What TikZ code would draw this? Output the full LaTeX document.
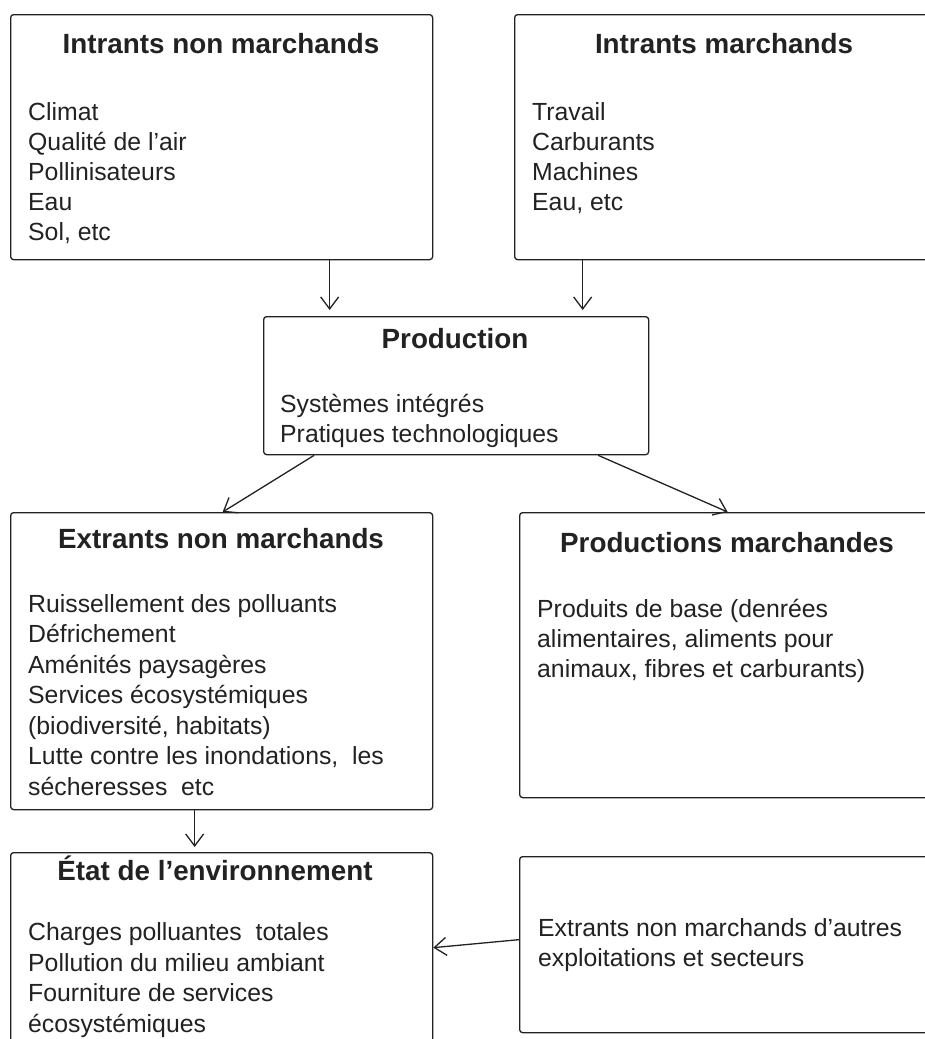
\documentclass[tikz,border=0pt]{standalone}
\usepackage{fontspec}
\setmainfont{Liberation Sans}
\usepackage{tikz}
\usetikzlibrary{arrows.meta}
\definecolor{ink}{HTML}{222222}

\begin{document}
\begin{tikzpicture}[x=1pt, y=-1pt, every node/.style={text=ink},
    box/.style={draw=ink, line width=1.3pt, rounded corners=3pt, anchor=north west, inner sep=0pt},
    head/.style={anchor=base, font=\fontsize{27.8}{32}\selectfont\bfseries},
    body/.style={anchor=base west, align=left, inner sep=0pt, font=\fontsize{24.8}{30}\selectfont},
    arr/.style={draw=ink, line width=1.3pt, -{Straight Barb[length=12pt, width=18pt, line width=1.3pt]}}]
    \useasboundingbox[fill=white] (0,0) rectangle (925,1039);
    \clip (0,0) rectangle (925,1039);

    % Intrants (body nodes sit on the baseline of their last line)
    \node[box, minimum width=422pt, minimum height=245pt] (inm) at (10,14) {};
    \node[head] (inmH) at (221,53) {Intrants non marchands};
    \node[body] (inmB) at (28,240) {Climat\\Qualité de l’air\\Pollinisateurs\\Eau\\Sol, etc};
    \node[box, minimum width=421pt, minimum height=245pt] (im) at (514,14) {};
    \node[head] (imH) at (724,53) {Intrants marchands};
    \node[body] (imB) at (532,210) {Travail\\Carburants\\Machines\\Eau, etc};

    % Production
    \node[box, minimum width=385pt, minimum height=138pt] (prod) at (263,316) {};
    \node[head] (prodH) at (455,348) {Production};
    \node[body] (prodB) at (280,442) {Systèmes intégrés\\Pratiques technologiques};

    % Extrants et productions
    \node[box, minimum width=422pt, minimum height=297pt] (enm) at (10,512) {};
    \node[head] (enmH) at (221,548) {Extrants non marchands};
    \node[body, font=\fontsize{24.8}{30.5}\selectfont] (enmB) at (28,795) {Ruissellement des polluants\\Défrichement\\Aménités paysagères\\Services écosystémiques\\(biodiversité, habitats)\\Lutte contre les inondations,\ \ les\\sécheresses\ \ etc};
    \node[box, minimum width=416pt, minimum height=285pt] (pm) at (519,512) {};
    \node[head] (pmH) at (727,552) {Productions marchandes};
    \node[body] (pmB) at (537,677) {Produits de base (denrées\\alimentaires, aliments pour\\animaux, fibres et carburants)};

    % Environnement
    \node[box, minimum width=422pt, minimum height=190pt] (etat) at (10,852) {};
    \node[head] (etatH) at (215,880) {État de l’environnement};
    \node[body, font=\fontsize{24.8}{30.5}\selectfont] (etatB) at (28,1032) {Charges polluantes\ \ totales\\Pollution du milieu ambiant\\Fourniture de services\\écosystémiques};
    \node[box, minimum width=416pt, minimum height=176pt] (autres) at (519,856) {};
    \node[body] (autresB) at (538,966) {Extrants non marchands d’autres\\exploitations et secteurs};

    % Fleches
    \draw[arr, shorten >=6pt] ([xshift=108pt]inm.south) -- ([xshift=108pt]inm.south |- prod.north);
    \draw[arr, shorten >=6pt] ([xshift=-142.5pt]im.south) -- ([xshift=-142.5pt]im.south |- prod.north);
    \draw[arr] ([xshift=-142pt]prod.south) -- ([xshift=1pt]enm.north);
    \draw[arr] ([xshift=142pt]prod.south) -- (pm.north);
    \draw[arr, shorten >=5pt] ([xshift=-27pt]enm.south) -- ([xshift=-27pt]enm.south |- etat.north);
    \draw[arr] ([yshift=5pt]autres.west) -- (etat.east);
\end{tikzpicture}
\end{document}
